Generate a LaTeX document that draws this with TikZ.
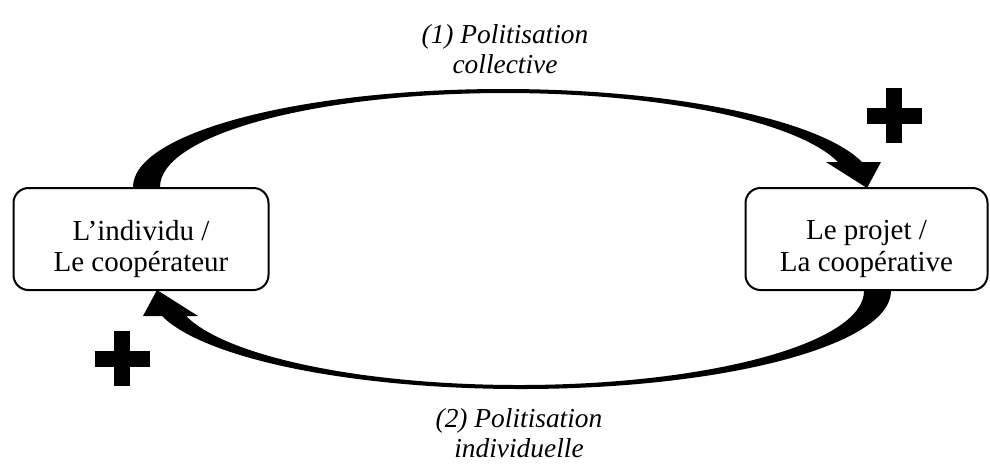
\documentclass[tikz,border=0pt]{standalone}
\usepackage{fontspec}
\setmainfont{Liberation Serif}
\usetikzlibrary{positioning}

\begin{document}
\begin{tikzpicture}[
    x=0.5pt, y=-0.5pt,
    box/.style={draw, line width=1pt, rounded corners=7.5pt, fill=white, minimum height=51pt},
    boxtext/.style={align=center, font=\fontsize{14.5}{15.8}\selectfont, yshift=-5pt},
    polit/.style={align=center, font=\fontsize{13.7}{15}\selectfont\itshape},
    pics/politarrow/.style={code={
        \fill (133,187) .. controls (133,133) and (299,89) .. (503,89)
            .. controls (671,89) and (819,119) .. (862,162) -- (881,162) -- (867,188)
            -- (826,162) -- (838,162) .. controls (797,121) and (660,93) .. (505,93)
            .. controls (315,93) and (160,135) .. (160,187) -- cycle;
    }},
    pics/bigplus/.style={code={
        \fill (-8,-27.5) rectangle (8,27.5);
        \fill (-27.5,-8) rectangle (27.5,8);
    }}
]
\useasboundingbox (0,0) rectangle (990,463);
% Arrows
\pic at (0,0) {politarrow};
\pic[rotate=180] at (1024,478) {politarrow};
% Boxes
\node[box, minimum width=127.5pt, label={[boxtext]center:{L’individu /\\Le coopérateur}}] (indiv) at (141,239) {};
\node[box, minimum width=121pt, label={[boxtext]center:{Le projet /\\La coopérative}}] (projet) at (866.5,239) {};
% Labels
\node[polit] (collec) at (505,49) {(1) Politisation\\collective};
\node[polit] (individ) at (519,433) {(2) Politisation\\individuelle};
% Plus signs
\pic at (894,115.5) {bigplus};
\pic at (122,358.5) {bigplus};
\end{tikzpicture}
\end{document}
